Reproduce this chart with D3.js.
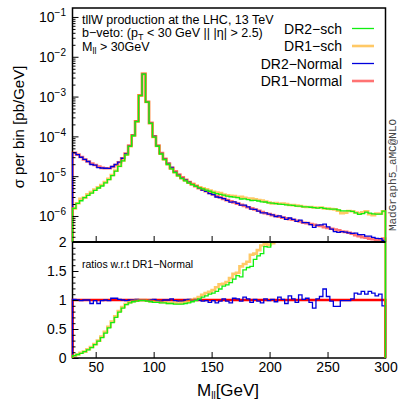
<!DOCTYPE html>
<html>
<head>
<meta charset="utf-8">
<script src="https://cdn.jsdelivr.net/npm/d3@7"></script>
<style>
  body { margin: 0; background: #fff; }
  svg { display: block; font-family: "Liberation Sans", Arial, sans-serif; }
</style>
</head>
<body>
<div id="chart"></div>
<script>
// histogram binning: 90 bins of 3 GeV from 30 to 300
const xMin = 30, xMax = 300, binWidth = 3

// DR1-Normal, sigma per bin [pb/GeV]
const dr1Normal = [
  3.89e-5, 3.47e-5, 3.02e-5, 2.63e-5, 2.34e-5, 2.09e-5, 1.91e-5, 1.74e-5, 1.62e-5, 1.58e-5,
  1.58e-5, 1.70e-5, 1.91e-5, 2.24e-5, 2.82e-5, 3.72e-5, 5.89e-5, 1.07e-4, 2.40e-4, 1.07e-3,
  3.72e-3, 7.41e-4, 2.19e-4, 1.00e-4, 5.89e-5, 3.80e-5, 2.75e-5, 2.09e-5, 1.62e-5, 1.32e-5,
  1.10e-5, 9.33e-6, 8.13e-6, 7.08e-6, 6.31e-6, 5.62e-6, 5.01e-6, 4.57e-6, 4.17e-6, 3.80e-6,
  3.47e-6, 3.16e-6, 2.95e-6, 2.69e-6, 2.51e-6, 2.34e-6, 2.19e-6, 2.04e-6, 1.91e-6, 1.78e-6,
  1.66e-6, 1.55e-6, 1.45e-6, 1.35e-6, 1.26e-6, 1.17e-6, 1.12e-6, 1.05e-6, 1.00e-6, 9.55e-7,
  9.12e-7, 8.71e-7, 8.32e-7, 8.05e-7, 7.59e-7, 7.24e-7, 6.75e-7, 6.61e-7, 6.31e-7, 6.03e-7,
  5.75e-7, 5.62e-7, 5.25e-7, 5.01e-7, 4.79e-7, 4.57e-7, 4.37e-7, 4.08e-7, 3.98e-7, 3.80e-7,
  3.58e-7, 3.30e-7, 3.10e-7, 2.95e-7, 2.85e-7, 2.70e-7, 2.60e-7, 2.55e-7, 2.45e-7, 2.70e-7
]

// ratios w.r.t. DR1-Normal
const ratioDr2Normal = [
  1.01, 1.00, 0.99, 1.00, 1.00, 0.94, 0.99, 0.94, 0.99, 1.00,
  0.99, 1.03, 1.03, 1.01, 1.00, 0.99, 1.00, 1.00, 1.01, 1.00,
  1.00, 0.99, 1.00, 1.01, 0.99, 0.98, 1.00, 1.00, 1.02, 0.99,
  0.98, 0.98, 1.00, 1.01, 0.99, 1.01, 1.00, 0.98, 0.99, 0.96,
  0.99, 0.95, 0.98, 1.02, 0.98, 0.95, 1.03, 1.02, 0.98, 1.05,
  1.02, 0.96, 1.01, 0.98, 0.95, 1.02, 0.99, 1.01, 0.97, 1.05,
  1.01, 0.94, 1.07, 1.02, 0.96, 1.09, 1.01, 1.03, 0.96, 0.86,
  1.02, 1.06, 1.19, 1.06, 0.98, 0.89, 0.89, 0.99, 0.99, 0.99,
  1.02, 1.12, 1.10, 1.15, 1.10, 1.15, 1.12, 1.07, 1.10, 0.90
]
const ratioDr1Sch = [
  0.04, 0.06, 0.09, 0.11, 0.15, 0.19, 0.24, 0.30, 0.37, 0.45,
  0.54, 0.63, 0.72, 0.81, 0.88, 0.93, 0.96, 0.98, 0.99, 1.00,
  1.00, 0.99, 0.98, 0.97, 0.97, 0.96, 0.96, 0.95, 0.95, 0.95,
  0.94, 0.95, 0.96, 0.98, 1.00, 1.02, 1.05, 1.09, 1.12, 1.14,
  1.17, 1.22, 1.27, 1.28, 1.31, 1.38, 1.45, 1.47, 1.58, 1.62,
  1.66, 1.78, 1.80, 1.86, 1.94, 1.96, 1.95, 1.98, 2.10, 2.12,
  2.25, 2.30, 2.27, 2.33, 2.40, 2.47, 2.53, 2.55, 2.66, 2.70,
  2.80, 2.90, 2.93, 3.05, 3.12, 3.20, 3.10, 2.90, 3.05, 3.50,
  3.66, 3.70, 3.75, 4.20, 4.60, 4.10, 4.00, 4.50, 4.65, 4.85
]
const ratioDr2Sch = [
  0.04, 0.06, 0.08, 0.11, 0.14, 0.18, 0.23, 0.29, 0.35, 0.43,
  0.52, 0.61, 0.70, 0.79, 0.86, 0.92, 0.95, 0.97, 0.98, 0.99,
  0.99, 0.98, 0.97, 0.96, 0.96, 0.95, 0.95, 0.94, 0.94, 0.93,
  0.93, 0.93, 0.94, 0.95, 0.97, 0.99, 1.02, 1.05, 1.07, 1.10,
  1.12, 1.15, 1.19, 1.24, 1.26, 1.30, 1.36, 1.42, 1.40, 1.52,
  1.56, 1.58, 1.70, 1.76, 1.80, 1.92, 1.91, 2.00, 2.04, 2.09,
  2.14, 2.19, 2.24, 2.29, 2.34, 2.45, 2.51, 2.57, 2.63, 2.69,
  2.75, 2.88, 2.95, 3.02, 3.09, 3.24, 3.24, 3.31, 3.39, 3.55,
  3.63, 3.63, 3.55, 3.89, 4.37, 4.37, 4.37, 4.37, 4.57, 4.90
]

const logTicks = [1e-1, 1e-2, 1e-3, 1e-4, 1e-5, 1e-6]
const logTickExp = ['−1', '−2', '−3', '−4', '−5', '−6']
const ratioTicks = [0, 0.5, 1, 1.5, 2]
const ratioTickLabels = ['0', '0.5', '1', '1.5', '2']
const xTicks = [50, 100, 150, 200, 250, 300]

const W = 398, H = 403
const left = 72.5, right = 385.5, mainTop = 8, mainBottom = 242, ratioBottom = 358

const x = d3.scaleLinear().domain([xMin, xMax]).range([left, right])
const yMain = d3.scaleLog().domain([2.22e-7, 0.168]).range([mainBottom, mainTop])
const yRatio = d3.scaleLinear().domain([0, 2]).range([ratioBottom, mainBottom])

const ones = dr1Normal.map(() => 1)
const series = [
  { name: 'DR1−Normal', ratio: ones, color: '#ff0000', width: 2.6, opacity: 0.55 },
  { name: 'DR2−Normal', ratio: ratioDr2Normal, color: '#0000dd', width: 1.3, opacity: 1 },
  { name: 'DR1−sch', ratio: ratioDr1Sch, color: '#ffa500', width: 2.6, opacity: 0.6 },
  { name: 'DR2−sch', ratio: ratioDr2Sch, color: '#11ee11', width: 1.3, opacity: 1 }
]
series.forEach(s => { s.values = s.ratio.map((r, i) => r * dr1Normal[i]) })

const svg = d3.select('#chart').append('svg')
  .attr('width', W).attr('height', H)

const defs = svg.append('defs')
defs.append('clipPath').attr('id', 'clipMain').append('rect')
  .attr('x', left - 1).attr('y', mainTop).attr('width', right - left + 2).attr('height', mainBottom - mainTop)
defs.append('clipPath').attr('id', 'clipRatio').append('rect')
  .attr('x', left - 1).attr('y', mainBottom).attr('width', right - left + 2).attr('height', ratioBottom - mainBottom + 1)

// frame
svg.append('rect')
  .attr('x', left).attr('y', mainTop)
  .attr('width', right - left).attr('height', ratioBottom - mainTop)
  .attr('fill', 'none').attr('stroke', '#000').attr('stroke-width', 1.5)

// step path helper: rises from panel floor at 30 GeV, falls back at 300 GeV
const stepPoints = (vals, yScale, floor) => {
  const pts = [[x(xMin), floor]]
  vals.forEach((v, i) => {
    const y = yScale(v)
    pts.push([x(xMin + i * binWidth), y])
    pts.push([x(xMin + (i + 1) * binWidth), y])
  })
  pts.push([x(xMax), floor])
  return pts
}
const line = d3.line()

const gMain = svg.append('g').attr('clip-path', 'url(#clipMain)')
gMain.selectAll('path.hist')
  .data(series)
  .enter().append('path')
  .attr('class', 'hist')
  .attr('d', d => line(stepPoints(d.values, yMain, mainBottom)))
  .attr('fill', 'none')
  .attr('stroke', d => d.color)
  .attr('stroke-width', d => d.width)
  .attr('stroke-opacity', d => d.opacity)

const gRatio = svg.append('g').attr('clip-path', 'url(#clipRatio)')
gRatio.selectAll('path.ratio')
  .data(series)
  .enter().append('path')
  .attr('class', 'ratio')
  .attr('d', d => line(stepPoints(d.ratio, yRatio, ratioBottom)))
  .attr('fill', 'none')
  .attr('stroke', d => d.color)
  .attr('stroke-width', d => d.width)
  .attr('stroke-opacity', d => d.name === 'DR1−Normal' ? 1 : d.opacity)

// separator between panels
svg.append('line')
  .attr('x1', left).attr('x2', right).attr('y1', mainBottom).attr('y2', mainBottom)
  .attr('stroke', '#000').attr('stroke-width', 2)

/* ------- AXES (ticks inward) -------*/
const cleanAxis = g => { g.select('.domain').remove(); g.selectAll('line').attr('stroke', '#000') }

// log minors
const logMinors = []
for (let e = -7; e <= -1; e++) for (let m = 2; m <= 9; m++) {
  const v = m * Math.pow(10, e)
  if (v > yMain.domain()[0] && v < yMain.domain()[1]) logMinors.push(v)
}
svg.append('g').attr('transform', `translate(${left},0)`)
  .call(d3.axisLeft(yMain).tickValues(logMinors).tickSize(-3).tickFormat(''))
  .call(cleanAxis)
const gyMain = svg.append('g').attr('transform', `translate(${left},0)`)
  .call(d3.axisLeft(yMain).tickValues(logTicks).tickSize(-6).tickFormat(''))
  .call(cleanAxis)
gyMain.selectAll('.tick').append('text')
  .attr('x', -6.5).attr('y', 5)
  .attr('text-anchor', 'end')
  .attr('fill', '#000').attr('font-size', 14)
  .each(function(d, i) {
    const t = d3.select(this)
    t.append('tspan').text('10')
    t.append('tspan').attr('dy', -6).attr('font-size', 10).text(logTickExp[i])
  })

const ratioMinors = d3.range(1, 20).map(k => k / 10).filter(v => Math.abs(v * 2 - Math.round(v * 2)) > 1e-6)
svg.append('g').attr('transform', `translate(${left},0)`)
  .call(d3.axisLeft(yRatio).tickValues(ratioMinors).tickSize(-3).tickFormat(''))
  .call(cleanAxis)
const gyRatio = svg.append('g').attr('transform', `translate(${left},0)`)
  .call(d3.axisLeft(yRatio).tickValues(ratioTicks).tickSize(-6).tickFormat((d, i) => ratioTickLabels[i]).tickPadding(6))
  .call(cleanAxis)
gyRatio.selectAll('text').attr('font-size', 14).attr('fill', '#000').attr('font-family', null)

svg.append('g').attr('transform', `translate(0,${mainBottom})`)
  .call(d3.axisBottom(x).tickValues(xTicks.slice(0, -1)).tickSize(-6).tickFormat(''))
  .call(cleanAxis)
const gx = svg.append('g').attr('transform', `translate(0,${ratioBottom})`)
  .call(d3.axisBottom(x).tickValues(xTicks).tickSize(-6).tickFormat(d => d).tickPadding(4))
  .call(cleanAxis)
gx.selectAll('text').attr('font-size', 14).attr('fill', '#000').attr('font-family', null)
gx.selectAll('.tick').filter(d => d === xMax).select('line').remove()

/* ------- TITLES -------*/
svg.append('text')
  .attr('transform', 'translate(24,127) rotate(-90)')
  .attr('text-anchor', 'middle').attr('font-size', 15)
  .text('σ per bin [pb/GeV]')

const xt = svg.append('text').attr('x', 197).attr('y', 396).attr('font-size', 17)
xt.append('tspan').text('M')
xt.append('tspan').attr('dy', 3).attr('font-size', 10).text('ll')
xt.append('tspan').attr('dy', -3).text('[GeV]')

svg.append('text')
  .attr('transform', 'translate(396,175) rotate(-90)')
  .attr('text-anchor', 'middle')
  .attr('font-family', '"Liberation Mono", monospace')
  .attr('font-size', 11).attr('fill', '#444')
  .text('MadGraph5_aMC@NLO')

/* ------- ANNOTATIONS -------*/
const note = svg.append('g').attr('font-size', 12.5).attr('fill', '#000')
note.append('text').attr('x', 82).attr('y', 24).text('tllW production at the LHC, 13 TeV')
const n2 = note.append('text').attr('x', 82).attr('y', 37)
n2.append('tspan').text('b−veto: (p')
n2.append('tspan').attr('dy', 2.5).attr('font-size', 9).text('T')
n2.append('tspan').attr('dy', -2.5).text(' < 30 GeV || |η| > 2.5)')
const n3 = note.append('text').attr('x', 82).attr('y', 51)
n3.append('tspan').text('M')
n3.append('tspan').attr('dy', 2.5).attr('font-size', 9).text('ll')
n3.append('tspan').attr('dy', -2.5).text(' > 30GeV')

svg.append('text').attr('x', 82).attr('y', 268).attr('font-size', 10.5)
  .text('ratios w.r.t DR1−Normal')

/* ------- LEGEND -------*/
const legendOrder = [series[3], series[2], series[1], series[0]]
const legendY = [28.5, 46, 63.5, 81]
const lg = svg.append('g').selectAll('g')
  .data(legendOrder)
  .enter().append('g')
  .attr('transform', (d, i) => `translate(0,${legendY[i]})`)
lg.append('text')
  .attr('x', 342).attr('y', 5)
  .attr('text-anchor', 'end').attr('font-size', 14)
  .text(d => d.name)
lg.append('line')
  .attr('x1', 352).attr('x2', 374)
  .attr('stroke', d => d.color)
  .attr('stroke-width', d => d.width)
  .attr('stroke-opacity', d => d.opacity)
</script>
</body>
</html>
